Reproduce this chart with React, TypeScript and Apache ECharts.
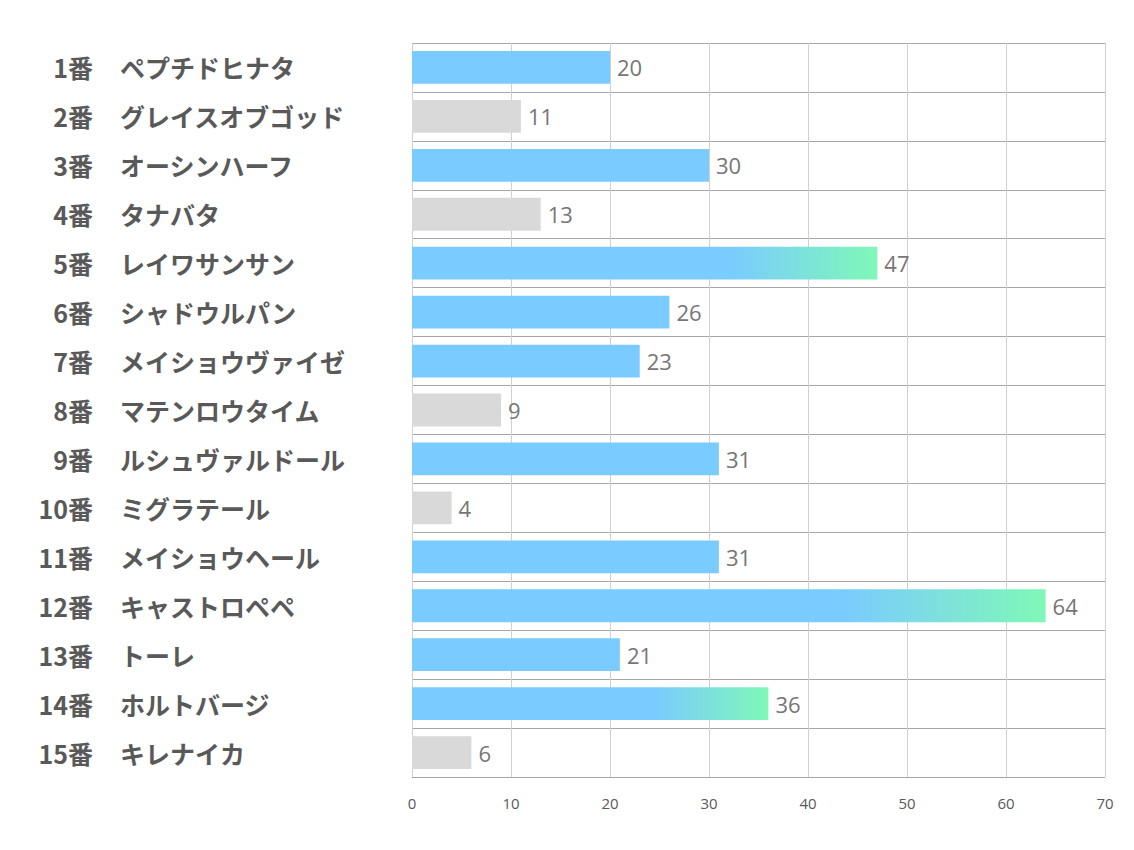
import React, { useEffect, useRef } from "react";
import * as echarts from "echarts";

const numbers = ["1番", "2番", "3番", "4番", "5番", "6番", "7番", "8番", "9番", "10番", "11番", "12番", "13番", "14番", "15番"];
const names = [
  "ペプチドヒナタ",
  "グレイスオブゴッド",
  "オーシンハーフ",
  "タナバタ",
  "レイワサンサン",
  "シャドウルパン",
  "メイショウヴァイゼ",
  "マテンロウタイム",
  "ルシュヴァルドール",
  "ミグラテール",
  "メイショウヘール",
  "キャストロペペ",
  "トーレ",
  "ホルトバージ",
  "キレナイカ",
];
const values = [20, 11, 30, 13, 47, 26, 23, 9, 31, 4, 31, 64, 21, 36, 6];
// b = blue, g = grey, x = blue→green gradient
const kinds = ["b", "g", "b", "g", "x", "b", "b", "g", "b", "g", "b", "x", "b", "x", "g"];
const xTicks = [0, 10, 20, 30, 40, 50, 60, 70];

const BLUE = "#7ACBFF";
const GREEN = "#7FF8B7";
const GREY = "#D9D9D9";

function colorFor(kind: string) {
  if (kind === "g") return GREY;
  if (kind === "b") return BLUE;
  return new echarts.graphic.LinearGradient(0, 0, 1, 0, [
    { offset: 0, color: BLUE },
    { offset: 0.68, color: BLUE },
    { offset: 1, color: GREEN },
  ]);
}

const labelFont = {
  fontSize: 25,
  fontWeight: "bold",
  color: "#595959",
  fontFamily: "Noto Sans CJK JP",
};

export default function App() {
  const ref = useRef<HTMLDivElement>(null);
  useEffect(() => {
    if (!ref.current) return;
    const chart = echarts.init(ref.current, undefined, { renderer: "svg" });
    chart.setOption({
      animation: false,
      backgroundColor: "#ffffff",
      grid: { left: 412, right: 29, top: 43, bottom: 73, containLabel: false },
      xAxis: {
        type: "value",
        min: xTicks[0],
        max: xTicks[xTicks.length - 1],
        interval: 10,
        axisLine: { show: false },
        axisTick: { show: false },
        axisLabel: {
          color: "#595959",
          fontSize: 15,
          fontFamily: "Open Sans",
          margin: 18,
        },
        splitLine: { show: true, lineStyle: { color: "#D0D0D0", width: 1 } },
      },
      yAxis: [
        {
          type: "category",
          inverse: true,
          data: numbers,
          position: "left",
          axisLine: { show: false },
          axisTick: { show: false },
          splitLine: { show: true, lineStyle: { color: "#A6A6A6", width: 1 } },
          axisLabel: { ...labelFont, align: "right", margin: 412 - 93 },
        },
        {
          type: "category",
          inverse: true,
          data: names,
          position: "left",
          offset: 0,
          axisLine: { show: false },
          axisTick: { show: false },
          splitLine: { show: false },
          axisLabel: { ...labelFont, align: "left", margin: 412 - 120 },
        },
      ],
      series: [
        {
          type: "bar",
          yAxisIndex: 0,
          barCategoryGap: "33%",
          data: values.map((v, i) => ({ value: v, itemStyle: { color: colorFor(kinds[i]) } })),
          label: {
            show: true,
            position: "right",
            distance: 7,
            color: "#767676",
            fontSize: 22,
            fontFamily: "Open Sans",
          },
        },
      ],
    });
    return () => chart.dispose();
  }, []);
  return <div ref={ref} style={{ width: 1134, height: 850, margin: -8 }} />;
}
